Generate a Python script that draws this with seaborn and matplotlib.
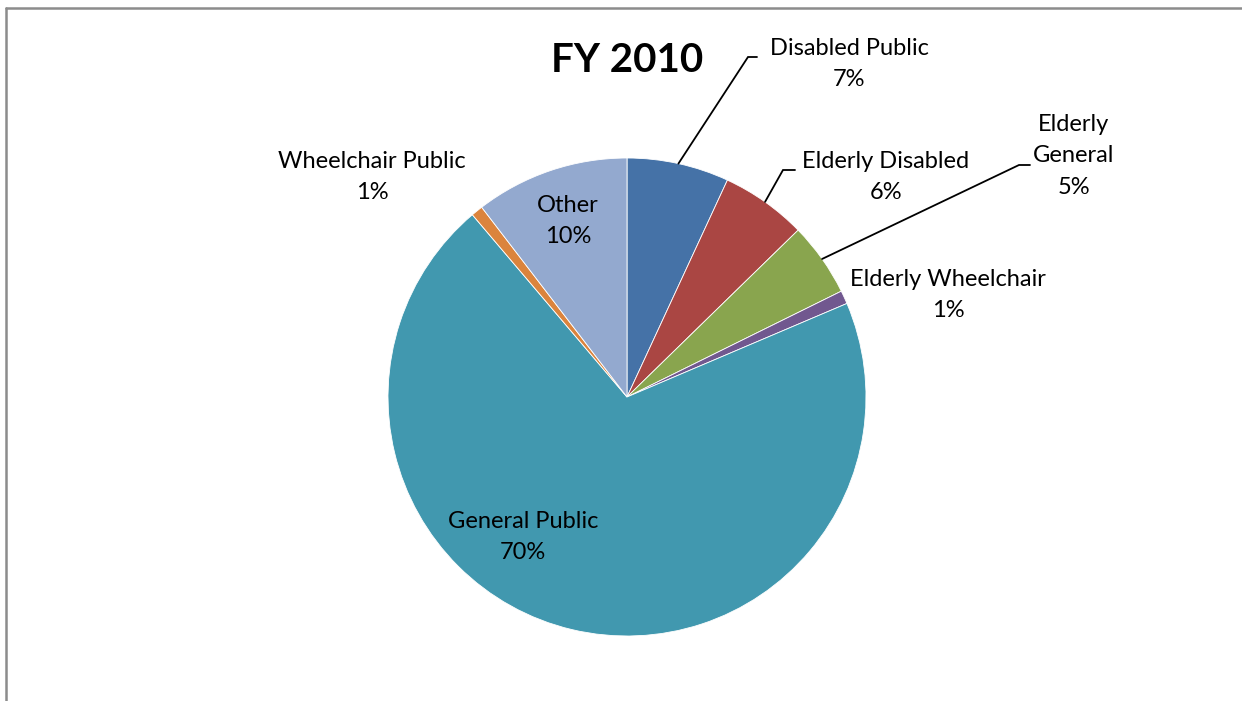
import matplotlib
matplotlib.use("Agg")
import matplotlib.pyplot as plt
import seaborn as sns
import numpy as np
from matplotlib.lines import Line2D

sns.set_theme(style="white")
plt.rcParams['font.family'] = ['Lato', 'DejaVu Sans']

categories = ["Disabled Public", "Elderly Disabled", "Elderly General",
              "Elderly Wheelchair", "General Public", "Wheelchair Public", "Other"]
display_names = ["Disabled Public", "Elderly Disabled", "Elderly\nGeneral",
                 "Elderly Wheelchair", "General Public", "Wheelchair Public", "Other"]
values = [6.9, 5.8, 5.0, 0.9, 70.2, 0.8, 10.4]
colors = ["#4572A7", "#AA4643", "#89A54E", "#71588F", "#4198AF", "#DB843D", "#93A9CF"]
title = "FY 2010"

W, H = 1242, 701
fig = plt.figure(figsize=(W / 100, H / 100), dpi=100)
ax = fig.add_axes([0, 0, 1, 1])

cx, cy, R = 627, H - 397, 239
wedges, _ = ax.pie(values, colors=colors, startangle=90, counterclock=False,
                   center=(cx, cy), radius=R, wedgeprops=dict(linewidth=0.6, edgecolor="white"))
ax.set_xlim(0, W)
ax.set_ylim(0, H)
ax.set_aspect("equal")
ax.axis("off")

total = sum(values)
pcts = [f"{round(v / total * 100):.0f}%" for v in values]

# label layout (pixel coords, y from top)
label_pos = {
    "Disabled Public": (849, 64),
    "Elderly Disabled": (886, 177),
    "Elderly General": (1074, 156),
    "Elderly Wheelchair": (948, 295),
    "General Public": (523, 537),
    "Wheelchair Public": (372, 177),
    "Other": (568, 221),
}
leaders = {
    "Disabled Public": ((748, 57), (757, 57)),
    "Elderly Disabled": ((783, 170), (795, 170)),
    "Elderly General": ((1019, 165), (1030, 165)),
}
fs = 17
for w, cat, name, pct in zip(wedges, categories, display_names, pcts):
    lx, ly = label_pos[cat]
    ax.text(lx, H - ly, f"{name}\n{pct}", ha="center", va="center",
            fontsize=fs, color="black", linespacing=1.6)
    if cat in leaders:
        theta = np.deg2rad((w.theta1 + w.theta2) / 2)
        sx, sy = cx + R * np.cos(theta), cy + R * np.sin(theta)
        (bx, by), (ex, ey) = leaders[cat]
        ax.plot([sx, bx, ex], [sy, H - by, H - ey], color="black", lw=1.3,
                solid_joinstyle="miter")

ax.text(627, H - 60, title, ha="center", va="center", fontsize=29,
        fontweight="bold", color="black")

# chart border (top & left visible)
fig.add_artist(Line2D([6 / W, 1.01], [1 - 8 / H, 1 - 8 / H], transform=fig.transFigure,
                      color="#8c8c8c", lw=1.8))
fig.add_artist(Line2D([6 / W, 6 / W], [-0.01, 1 - 8 / H], transform=fig.transFigure,
                      color="#8c8c8c", lw=1.8))

fig.savefig("out.png", dpi=100, facecolor="white")
